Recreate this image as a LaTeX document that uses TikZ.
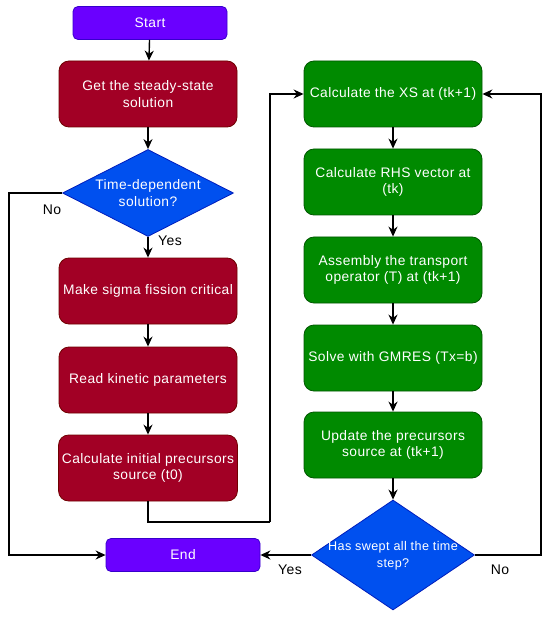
\documentclass[tikz,border=0pt]{standalone}
\usepackage{fontspec}
\setmainfont{Liberation Sans}[LetterSpace=3]
\usetikzlibrary{arrows.meta,positioning,shapes.geometric}

\definecolor{termfill}{HTML}{6A00FF}
\definecolor{termline}{HTML}{3700CC}
\definecolor{redfill}{HTML}{A20025}
\definecolor{redline}{HTML}{6F0000}
\definecolor{greenfill}{HTML}{008A00}
\definecolor{greenline}{HTML}{005700}
\definecolor{bluefill}{HTML}{0050EF}
\definecolor{blueline}{HTML}{001DBC}

\tikzset{
    box/.style={rectangle, rounded corners=10pt, minimum width=178pt, minimum height=66pt,
        text=white, align=center, font=\fontsize{13.8}{16.5}\selectfont, line width=0.8pt},
    redbox/.style={box, fill=redfill, draw=redline},
    greenbox/.style={box, fill=greenfill, draw=greenline},
    termbox/.style={box, rounded corners=5pt, minimum width=154pt, minimum height=33pt,
        fill=termfill, draw=termline},
    decision/.style={diamond, fill=bluefill, draw=blueline, line width=0.8pt, inner sep=0pt},
    dtext/.style={text=white, align=center, font=\fontsize{13.8}{16.5}\selectfont},
    lbl/.style={font=\fontsize{14}{16}\selectfont},
    arr/.style={-{Stealth[length=10pt,width=9pt]}, line width=1.4pt},
    ln/.style={line width=1.4pt}
}

\begin{document}
\begin{tikzpicture}[x=1pt, y=-1pt]
    \useasboundingbox (0,0) rectangle (550,617);

    % left column
    \node[termbox] (start) at (150, 23) {Start};
    \node[redbox] (steady) at (148, 94) {Get the steady-state\\solution};
    \node[decision, minimum width=171pt, minimum height=87pt] (td) at (148, 193) {};
    \node[dtext] (tdt) at (td) {Time-dependent\\solution?};
    \node[redbox] (sigma) at (148, 291) {Make sigma fission critical};
    \node[redbox] (kin) at (148, 380) {Read kinetic parameters};
    \node[redbox] (prec) at (148, 468) {Calculate initial precursors\\source (t0)};
    \node[termbox] (end) at (183, 555) {End};

    % right column
    \node[greenbox] (xs) at (393, 94) {Calculate the XS at (tk+1)};
    \node[greenbox] (rhs) at (393, 182) {Calculate RHS vector at\\(tk)};
    \node[greenbox] (op) at (393, 270) {Assembly the transport\\operator (T) at (tk+1)};
    \node[greenbox] (gm) at (393, 358) {Solve with GMRES (Tx=b)};
    \node[greenbox] (upd) at (393, 445) {Update the precursors\\source at (tk+1)};
    \node[decision, minimum width=163pt, minimum height=110pt] (sw) at (393, 555) {};
    \node[dtext, font=\fontsize{12.6}{17}\selectfont] (swt) at (393, 556) {Has swept all the time\\step?};

    % bends
    \coordinate (noleft) at (9, 555);
    \coordinate (jump) at (270, 522);
    \coordinate (noright) at (541, 94);

    % arrows
    \draw[arr] (start) -- (steady);
    \draw[arr] (steady) -- (td);
    \draw[arr] (td) -- (sigma);
    \draw[arr] (sigma) -- (kin);
    \draw[arr] (kin) -- (prec);
    \draw[ln] (prec.south) |- (jump);
    \draw[arr] (jump) |- (xs.west);
    \draw[arr] (xs) -- (rhs);
    \draw[arr] (rhs) -- (op);
    \draw[arr] (op) -- (gm);
    \draw[arr] (gm) -- (upd);
    \draw[arr] (upd) -- (sw);
    \draw[arr] (td.west) -| (noleft) -- (end.west);
    \draw[arr] (sw.west) -- (end.east);
    \draw[arr] (sw.east) -| (noright) -- (xs.east);

    % labels
    \node[lbl] (nolbl) at (52, 210) {No};
    \node[lbl] (yeslbl) at (170, 241) {Yes};
    \node[lbl] (yes2lbl) at (290, 570) {Yes};
    \node[lbl] (no2lbl) at (500, 570) {No};
\end{tikzpicture}
\end{document}
